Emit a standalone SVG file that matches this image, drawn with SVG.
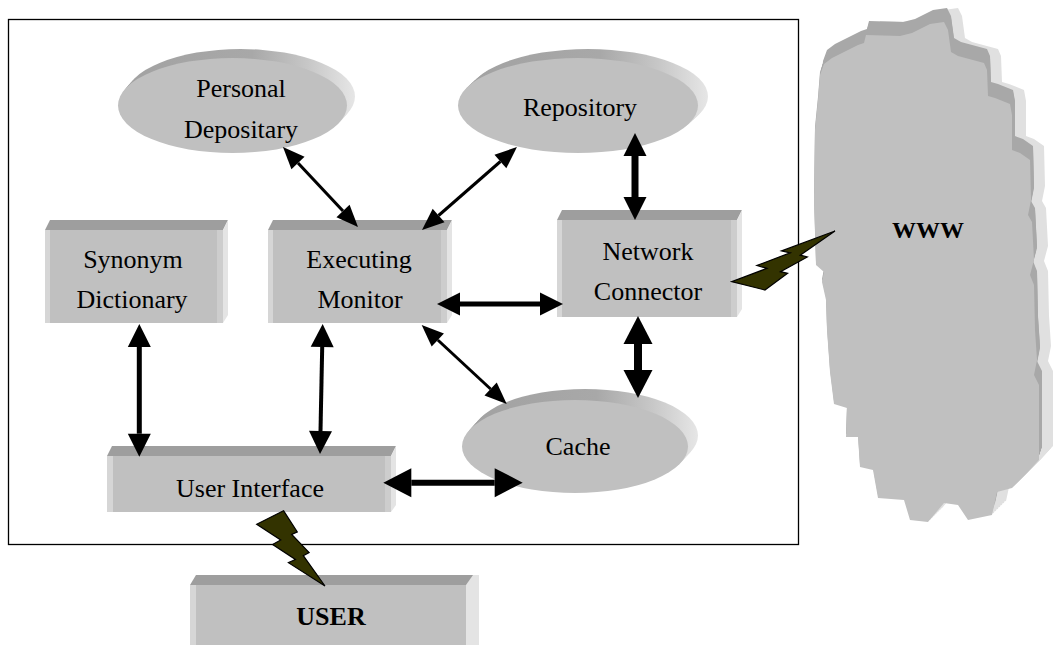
<svg xmlns="http://www.w3.org/2000/svg" xmlns:xlink="http://www.w3.org/1999/xlink" width="1053" height="645" viewBox="0 0 1053 645">
<style>
.lt{fill:#e0e0e0}
.dk{fill:#a8a8a8}
.eg{fill:url(#egrad)}
.fr{fill:#c0c0c0}
.ls{fill:#d6d6d6}
.rs{fill:#cdcdcd}
.tf{fill:#9e9e9e}
.sf{fill:#e4e4e4}
.txt{font-family:"Liberation Serif","Times New Roman",serif;font-size:26px;text-anchor:middle;fill:#000}
.b{font-weight:bold}
.conn line{stroke:#000;stroke-linecap:butt;fill:none}
.bolt{fill:#333300;stroke:#000;stroke-width:1.2;stroke-linejoin:miter}
</style>
<defs>
<linearGradient id="egrad" x1="0" y1="0" x2="1" y2="0">
<stop offset="0" stop-color="#a2a2a2"/>
<stop offset="0.55" stop-color="#a8a8a8"/>
<stop offset="0.8" stop-color="#c8c8c8"/>
<stop offset="1" stop-color="#e6e6e6"/>
</linearGradient>
<marker id="hs" markerUnits="userSpaceOnUse" markerWidth="24" markerHeight="20" viewBox="0 -10 24 20" refX="0" refY="0" orient="auto-start-reverse" overflow="visible"><path d="M0,-9 L22,0 L0,9 Z" fill="#000"/></marker>
<marker id="hm" markerUnits="userSpaceOnUse" markerWidth="24" markerHeight="24" viewBox="0 -12 24 24" refX="0" refY="0" orient="auto-start-reverse" overflow="visible"><path d="M0,-11.5 L23,0 L0,11.5 Z" fill="#000"/></marker>
<marker id="hl" markerUnits="userSpaceOnUse" markerWidth="30" markerHeight="30" viewBox="0 -15 30 30" refX="0" refY="0" orient="auto-start-reverse" overflow="visible"><path d="M0,-14.5 L28,0 L0,14.5 Z" fill="#000"/></marker>
<path id="cloudShape" d="M824,64 L832,58 L858,45 L864,43 L866,35 L900,36 L912,33 L930,24 L944,22 L948,30 L951,52 L958,56 L984,63 L987,70 L988,96 L995,98 L1010,104 L1012,115 L1012,150 L1020,153 L1030,160 L1031,200 L1028,215 L1032,222 L1034,260 L1030,275 L1034,285 L1035,330 L1037,360 L1034,375 L1039,385 L1039,460 L1027,473 L1012,488 L997,492 L992,515 L968,520 L958,505 L944,503 L928,522 L910,520 L904,500 L878,498 L873,470 L860,467 L858,437 L846,437 L847,408 L834,404 L830,372 L827,330 L826,300 L822,282 L824,272 L816,265 L814,200 L815,130 L818,100 L820,75 Z"/>
</defs>
<rect x="8.5" y="19.5" width="790" height="525" fill="none" stroke="#000" stroke-width="1.3"/>

<g id="personal-depositary">
<ellipse class="eg" cx="234.5" cy="103.2" rx="114.5" ry="47.5"/>
<ellipse class="eg" cx="236.5" cy="101" rx="114.5" ry="47.5"/>
<ellipse class="eg" cx="238.5" cy="98.7" rx="114.5" ry="47.5"/>
<ellipse class="eg" cx="240.5" cy="96.5" rx="114.5" ry="47.5"/>
<ellipse class="fr" cx="232.5" cy="105.5" rx="114.5" ry="47.5"/>
<text class="txt" x="241" y="97">Personal</text>
<text class="txt" x="241" y="138">Depositary</text>
</g>

<g id="repository">
<ellipse class="eg" cx="580.5" cy="103.2" rx="120" ry="47.5"/>
<ellipse class="eg" cx="583" cy="101" rx="120" ry="47.5"/>
<ellipse class="eg" cx="585.5" cy="98.7" rx="120" ry="47.5"/>
<ellipse class="eg" cx="588" cy="96.5" rx="120" ry="47.5"/>
<ellipse class="fr" cx="578" cy="105.5" rx="120" ry="47.5"/>
<text class="txt" x="580" y="116">Repository</text>
</g>

<g id="cache">
<ellipse class="eg" cx="577.5" cy="443.7" rx="113" ry="46.5"/>
<ellipse class="eg" cx="580" cy="441" rx="113" ry="46.5"/>
<ellipse class="eg" cx="582.5" cy="438.2" rx="113" ry="46.5"/>
<ellipse class="eg" cx="585" cy="435.5" rx="113" ry="46.5"/>
<ellipse class="fr" cx="575" cy="446.5" rx="113" ry="46.5"/>
<text class="txt" x="578" y="455">Cache</text>
</g>

<g id="synonym-dictionary">
<polygon class="tf" points="45,230 50,220 228,220 223,230"/>
<polygon class="sf" points="223,230 228,220 228,315 223,323"/>
<rect class="fr" x="45" y="230" width="178" height="93"/>
<rect class="ls" x="45" y="230" width="5" height="93"/>
<rect class="rs" x="217" y="230" width="6" height="93"/>
<text class="txt" x="133" y="268">Synonym</text>
<text class="txt" x="132" y="308">Dictionary</text>
</g>

<g id="executing-monitor">
<polygon class="tf" points="268,230 273,220 452,220 447,230"/>
<polygon class="sf" points="447,230 452,220 452,315 447,323"/>
<rect class="fr" x="268" y="230" width="179" height="93"/>
<rect class="ls" x="268" y="230" width="5" height="93"/>
<rect class="rs" x="441" y="230" width="6" height="93"/>
<text class="txt" x="359" y="268">Executing</text>
<text class="txt" x="360" y="308">Monitor</text>
</g>

<g id="network-connector">
<polygon class="tf" points="557,220 562,210 742,210 737,220"/>
<polygon class="sf" points="737,220 742,210 742,309 737,317"/>
<rect class="fr" x="557" y="220" width="180" height="97"/>
<rect class="ls" x="557" y="220" width="5" height="97"/>
<rect class="rs" x="731" y="220" width="6" height="97"/>
<text class="txt" x="648" y="260">Network</text>
<text class="txt" x="648" y="300">Connector</text>
</g>

<g id="user-interface">
<polygon class="tf" points="107,456 112,446 396,446 391,456"/>
<polygon class="sf" points="391,456 396,446 396,505 391,512"/>
<rect class="fr" x="107" y="456" width="284" height="56"/>
<rect class="ls" x="107" y="456" width="6" height="56"/>
<rect class="rs" x="385" y="456" width="6" height="56"/>
<text class="txt" x="250" y="497">User Interface</text>
</g>

<g id="user">
<polygon class="tf" points="190,585 196,575 479,575 473,585"/>
<polygon class="sf" points="466,585 473,575 479,575 479,645 466,645"/>
<rect class="fr" x="190" y="585" width="276" height="60"/>
<rect class="ls" x="190" y="585" width="6" height="60"/>
<text class="txt b" x="331" y="625">USER</text>
</g>

<g id="www">
<use href="#cloudShape" class="lt" transform="translate(2,-2)"/>
<use href="#cloudShape" class="lt" transform="translate(4,-4)"/>
<use href="#cloudShape" class="lt" transform="translate(6,-6)"/>
<use href="#cloudShape" class="lt" transform="translate(8,-8)"/>
<use href="#cloudShape" class="lt" transform="translate(10,-10)"/>
<use href="#cloudShape" class="lt" transform="translate(12,-12)"/>
<use href="#cloudShape" class="lt" transform="translate(14,-14)"/>
<use href="#cloudShape" class="dk" transform="translate(0,-3)"/>
<use href="#cloudShape" class="dk" transform="translate(1,-6)"/>
<use href="#cloudShape" class="dk" transform="translate(2,-9)"/>
<use href="#cloudShape" class="dk" transform="translate(3,-12)"/>
<use href="#cloudShape" class="dk" transform="translate(3,-14)"/>
<use href="#cloudShape" class="fr"/>
<text class="txt b" x="928" y="238" style="font-size:24px">WWW</text>
</g>

<g id="connectors" class="conn">
<line x1="298" y1="163" x2="343" y2="211" stroke-width="3" marker-start="url(#hs)" marker-end="url(#hs)"/>
<line x1="500.4" y1="161.5" x2="438.6" y2="215.5" stroke-width="3" marker-start="url(#hs)" marker-end="url(#hs)"/>
<line x1="635" y1="156" x2="635" y2="197" stroke-width="7" marker-start="url(#hm)" marker-end="url(#hm)"/>
<line x1="460" y1="304" x2="540" y2="304" stroke-width="5" marker-start="url(#hm)" marker-end="url(#hm)"/>
<line x1="437.8" y1="340" x2="490.6" y2="389" stroke-width="3" marker-start="url(#hs)" marker-end="url(#hs)"/>
<line x1="638" y1="344" x2="638" y2="370" stroke-width="8" marker-start="url(#hl)" marker-end="url(#hl)"/>
<line x1="139.3" y1="347" x2="139.3" y2="433.7" stroke-width="5" marker-start="url(#hm)" marker-end="url(#hm)"/>
<line x1="322.2" y1="347" x2="320.5" y2="431" stroke-width="4" marker-start="url(#hm)" marker-end="url(#hm)"/>
<line x1="411.3" y1="482.7" x2="494.7" y2="482.7" stroke-width="6" marker-start="url(#hl)" marker-end="url(#hl)"/>
<polygon class="bolt" points="765,290 787.6,273.3 780.5,271.7 807.3,257 800.2,255.2 835,231 781.5,250.9 790.2,252.8 756.9,265.5 766.9,268.4 731.7,281.7"/>
<polygon class="bolt" points="283.5,510.7 297.3,531.9 291.7,534.4 309.1,552.6 303.3,555.6 325,586 288.4,562.7 295.4,559.5 272.6,544.5 280.7,539.9 256.7,524.3"/>
</g>
</svg>
